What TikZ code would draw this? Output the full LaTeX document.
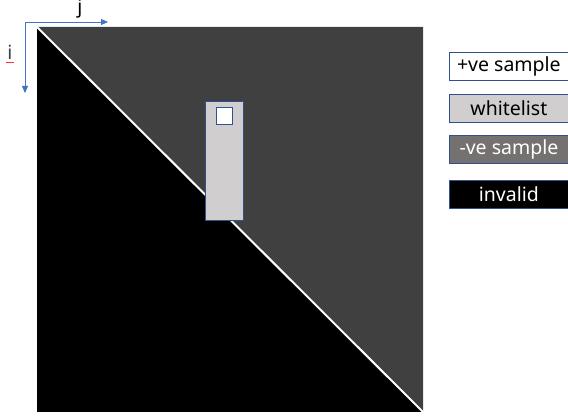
\documentclass[tikz,border=0pt]{standalone}
\usepackage{fontspec}
\setmainfont{Noto Sans}
\usetikzlibrary{arrows.meta}
\definecolor{darkgrey}{RGB}{64,64,64}
\definecolor{lightgrey}{RGB}{208,206,206}
\definecolor{midgrey}{RGB}{118,113,113}
\definecolor{edgeblue}{RGB}{47,82,143}
\definecolor{axisblue}{RGB}{68,114,196}
\tikzset{
  labelfont/.style={font=\fontsize{19.5}{19.5}\selectfont},
  legendbox/.style={draw=edgeblue, line width=0.8pt, minimum width=119pt, minimum height=28pt,
    inner sep=0pt, anchor=north west, labelfont},
  axis/.style={axisblue, line width=0.8pt, -{Triangle[length=7pt,width=6pt]}},
}
\begin{document}
\begin{tikzpicture}[x=1pt,y=-1pt]
\useasboundingbox (0,0) rectangle (568,419);
% matrix split along the diagonal
\coordinate (tl) at (37,27);
\coordinate (tr) at (423,27);
\coordinate (br) at (423,412);
\coordinate (bl) at (37,412);
\fill[darkgrey] (tl) -- (tr) -- (br) -- cycle;
\fill[black] (tl) -- (bl) -- (br) -- cycle;
\draw[white, line width=2pt] (tl) -- (br);
% whitelist strip with the positive cell
\node[draw=edgeblue, fill=lightgrey, line width=0.8pt, minimum width=38pt, minimum height=119pt,
  inner sep=0pt, anchor=north west] (strip) at (205,101) {};
\node[draw=edgeblue, fill=white, line width=0.6pt, minimum width=16pt, minimum height=17pt,
  inner sep=0pt, anchor=north west] (cell) at (216,107) {};
% index axes
\coordinate (o) at (25,22);
\coordinate (jend) at (108,22);
\coordinate (iend) at (25,93);
\draw[axis] (o) -- (jend);
\draw[axis] (o) -- (iend);
\node[labelfont, inner sep=0pt] (jlab) at (80,9) {j};
\node[labelfont, inner sep=0pt, text=darkgrey] (ilab) at (10,52) {i};
\draw[red!80!white, line width=1pt] (6,63) -- (14,63);
% legend
\node[legendbox, fill=white] (pos) at (449,52) {+ve sample};
\node[legendbox, fill=lightgrey] (wl) at (449,94) {whitelist};
\node[legendbox, fill=midgrey, text=white] (neg) at (449,135) {-ve sample};
\node[legendbox, fill=black, text=white] (inv) at (449,180) {invalid};
\end{tikzpicture}
\end{document}
